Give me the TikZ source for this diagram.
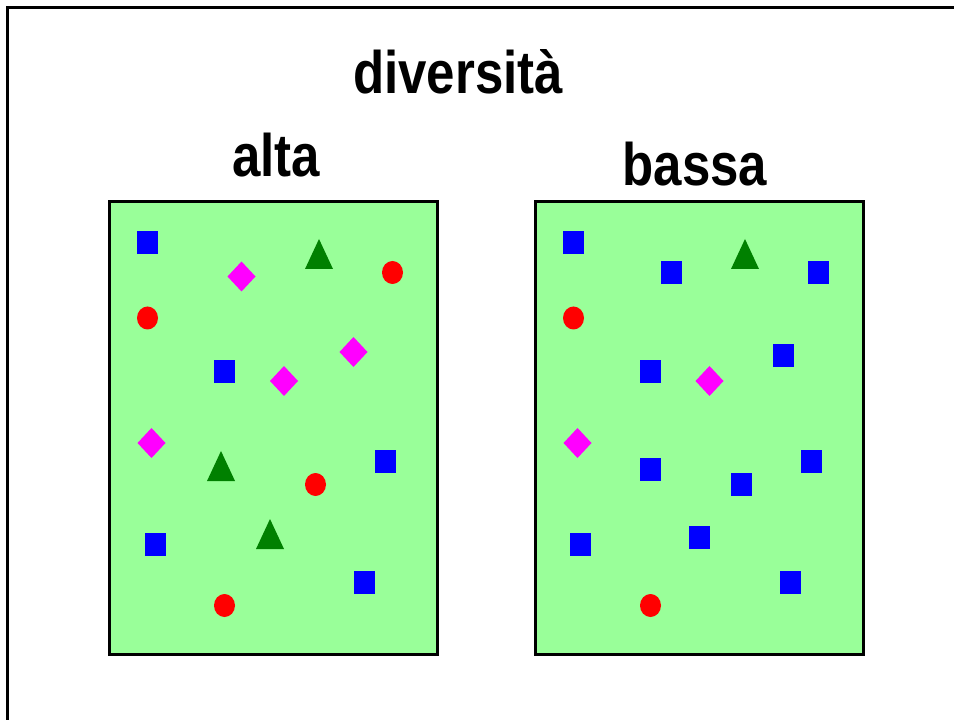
\documentclass[tikz,border=0pt]{standalone}
\usepackage{fontspec}
\setmainfont{Liberation Sans}[FakeStretch=0.85]
\definecolor{meadow}{RGB}{153,255,153}
\definecolor{cobalt}{RGB}{0,0,255}
\definecolor{poppy}{RGB}{255,0,0}
\definecolor{orchid}{RGB}{255,0,255}
\definecolor{pine}{RGB}{0,128,0}
\tikzset{
  field/.style={draw=black,fill=meadow,line width=2.25pt,inner sep=0pt,
    minimum width=246pt,minimum height=339.75pt},
  head/.style={anchor=base,inner sep=0pt,font=\fontsize{45pt}{54pt}\selectfont\bfseries},
  % markers
  pics/blk/.style={code={
    \fill[cobalt] (-10.5,-11.5) rectangle (10.5,11.5);
  }},
  pics/dot/.style={code={
    \fill[poppy] (0,0) ellipse [x radius=10.5,y radius=11.5];
  }},
  pics/gem/.style={code={
    \fill[orchid] (0,-15) -- (14,0) -- (0,15) -- (-14,0) -- cycle;
  }},
  pics/tri/.style={code={
    \fill[pine] (0,-15) -- (14,15) -- (-14,15) -- cycle;
  }},
}
\begin{document}
\begin{tikzpicture}[x=0.75pt,y=-0.75pt]
  \useasboundingbox[fill=white] (0,0) rectangle (954,720);
  \draw[line width=2.25pt] (7,720) -- (7,8) -- (954,8);
  \node[head] (title) at (458,94) {diversità};
  \node[head] (hilab) at (276,177) {alta};
  \node[head] (lolab) at (695,186) {bassa};
  \node[field] (hi) at (273.5,428) {};
  \node[field] (lo) at (699.5,428) {};
  % high diversity
  \foreach \x/\y in {147.5/242.5,224.5/371.5,385.5/461.5,155/544.5,364.5/582.5}
    \pic at (\x,\y) {blk};
  \foreach \x/\y in {392.5/272.5,147.5/318,315.5/484.5,224.5/605.5}
    \pic at (\x,\y) {dot};
  \foreach \x/\y in {241.5/276.5,353.5/352,284/381,151.5/443}
    \pic at (\x,\y) {gem};
  \foreach \x/\y in {319/254,221/466,270/534}
    \pic at (\x,\y) {tri};
  % low diversity
  \foreach \x/\y in {573.5/242.5,671.5/272.5,818/272.5,783.5/355.5,650/371.5,650/469.5,
    811.5/461.5,741.5/484.5,580.5/544.5,699.5/537.5,790/582.5}
    \pic at (\x,\y) {blk};
  \foreach \x/\y in {573.5/318,650.5/605.5}
    \pic at (\x,\y) {dot};
  \foreach \x/\y in {709.5/381,577.5/443}
    \pic at (\x,\y) {gem};
  \pic at (745,254) {tri};
\end{tikzpicture}
\end{document}
